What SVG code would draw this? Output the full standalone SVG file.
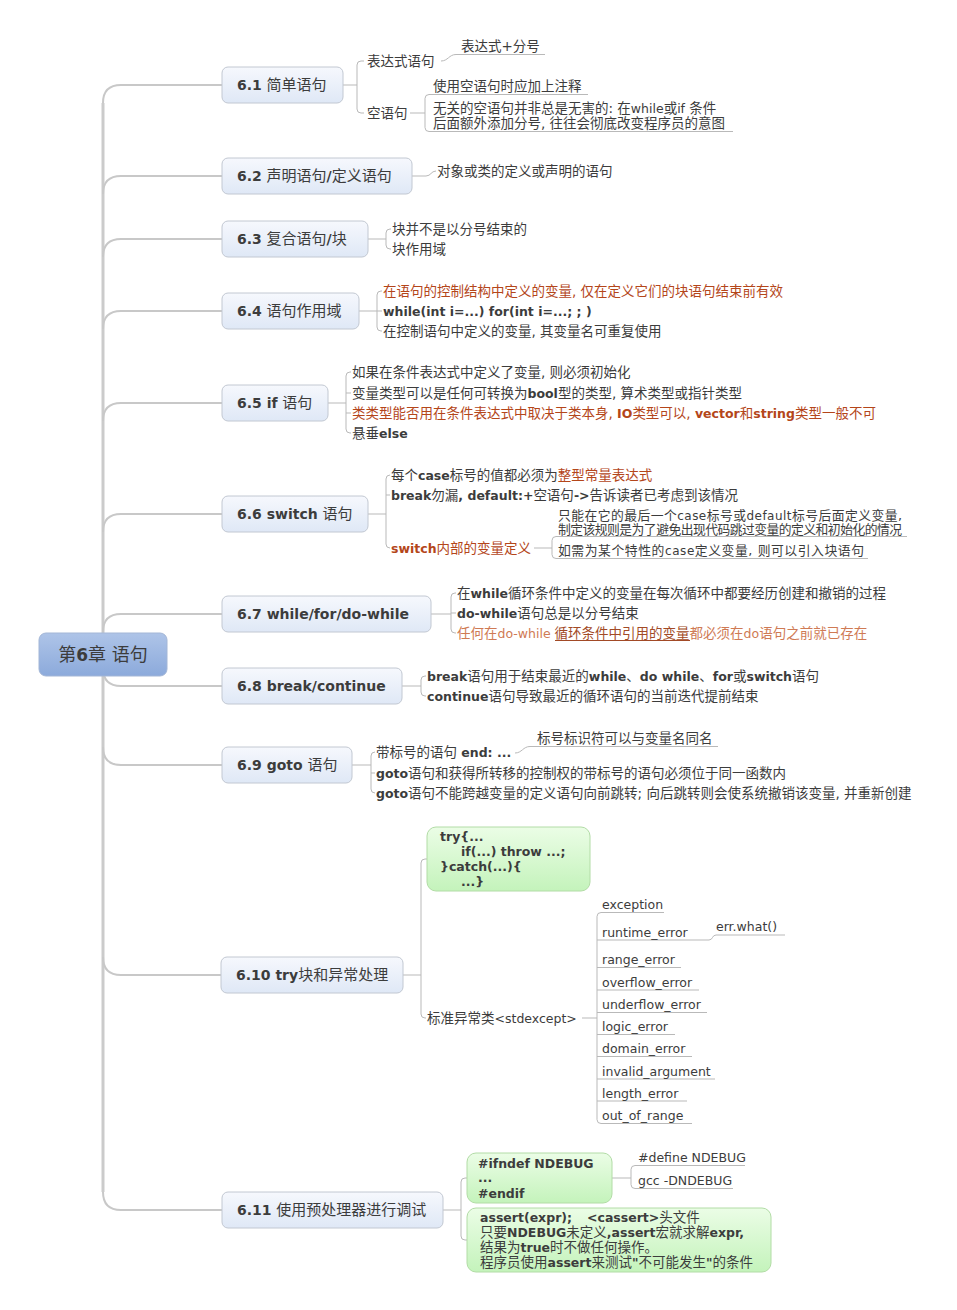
<svg xmlns="http://www.w3.org/2000/svg" width="957" height="1310" viewBox="0 0 957 1310">
<defs>
<linearGradient id="gNode" x1="0" y1="0" x2="0" y2="1"><stop offset="0" stop-color="#f6f8fd"/><stop offset="1" stop-color="#dfe8f6"/></linearGradient>
<linearGradient id="gRoot" x1="0" y1="0" x2="0" y2="1"><stop offset="0" stop-color="#aec4e8"/><stop offset="1" stop-color="#8caadb"/></linearGradient>
<linearGradient id="gGreen" x1="0" y1="0" x2="0" y2="1"><stop offset="0" stop-color="#ebfde6"/><stop offset="1" stop-color="#c4f3bb"/></linearGradient>
<style>
text{font-family:"DejaVu Sans","Noto Sans CJK SC",sans-serif;fill:#3c3c3c}
.tt{font-size:15px}
.n{font-weight:bold;font-size:14px}
.s{font-size:13.5px}
.s13{font-size:12.8px}
.l{font-size:12.5px}
.l12{font-size:12px}
.lb{font-size:12.5px;font-weight:bold}
.o{fill:#b4461a}
.o2{fill:#cf7a54}
.o3{fill:#a24a26}
.node{fill:url(#gNode);stroke:#c2c8d2;stroke-width:1}
.green{fill:url(#gGreen);stroke:#b2dca6;stroke-width:1}
.trunk{fill:none;stroke:#cbcbcb;stroke-width:3}
.br{fill:none;stroke:#c8c8c8;stroke-width:2}
.c{fill:none;stroke:#b9b9b9;stroke-width:1}
</style>
</defs>

<g id="connectors">
<path class="trunk" d="M103,103 V1192"/>
<path class="br" d="M103,103 Q103,85 121,85 H222"/>
<path class="br" d="M103,194 Q103,176 121,176 H222"/>
<path class="br" d="M103,257 Q103,239 121,239 H222"/>
<path class="br" d="M103,329 Q103,311 121,311 H222"/>
<path class="br" d="M103,421 Q103,403 121,403 H222"/>
<path class="br" d="M103,532 Q103,514 121,514 H222"/>
<path class="br" d="M103,632 Q103,614 121,614 H222"/>
<path class="br" d="M103,668 Q103,686 121,686 H222"/>
<path class="br" d="M103,747 Q103,765 121,765 H222"/>
<path class="br" d="M103,957 Q103,975 121,975 H221"/>
<path class="br" d="M103,1192 Q103,1210 121,1210 H222"/>

<!-- 6.1 -->
<path class="c" d="M343,85 H357 M364,61 H361 Q357,61 357,65 V109 Q357,113 361,113 H364"/>
<path class="c" d="M441,61 C448,61 449,54.5 456,54.5 H545"/>
<path class="c" d="M410,113 H425 M588,94.5 H429 Q425,94.5 425,98.5 V127.5 Q425,131.5 429,131.5 H733"/>
<!-- 6.2 -->
<path class="c" d="M412,176 H426 C431,176 431,171 436,171"/>
<!-- 6.3 -->
<path class="c" d="M368,239 H386 M391,229 H390 Q386,229 386,233 V245 Q386,249 390,249 H391"/>
<!-- 6.4 -->
<path class="c" d="M359,311 H382 M382,291 H381 Q377,291 377,295 V327 Q377,331 381,331 H382"/>
<!-- 6.5 -->
<path class="c" d="M328,403 H346 M351,372 H350 Q346,372 346,376 V429 Q346,433 350,433 H351 M346,393 H351 M346,413 H351"/>
<!-- 6.6 -->
<path class="c" d="M368,514 H386 M390,475 Q386,475 386,479 V544 Q386,548 390,548 M386,495 H390"/>
<path class="c" d="M534,548 H552 M907,536.5 H556 Q552,536.5 552,540.5 V554.5 Q552,558.5 556,558.5 H868"/>
<!-- 6.7 -->
<path class="c" d="M431,614 H451 M456,593 H455 Q451,593 451,597 V629 Q451,633 455,633 H456 M451,613 H456"/>
<!-- 6.8 -->
<path class="c" d="M402,686 H421 M426,676 H425 Q421,676 421,680 V692 Q421,696 425,696 H426"/>
<!-- 6.9 -->
<path class="c" d="M352,765 H371 M375,752 Q371,752 371,756 V789 Q371,793 375,793 M371,773 H375"/>
<path class="c" d="M515,753 C522,753 523,746.5 530,746.5 H718"/>
<!-- 6.10 -->
<path class="c" d="M403,975 H421 M427,859 H425 Q421,859 421,863 V1014 Q421,1018 425,1018 H426"/>
<path class="c" d="M582,1018 H597"/>
<path class="c" d="M664,912.5 H601 Q597,912.5 597,916.5 V1119.5 Q597,1123.5 601,1123.5 H692"/>
<path class="c" d="M597,940 H709 M597,967.5 H681 M597,990 H699 M597,1012.5 H707 M597,1034.5 H675 M597,1056.5 H692 M597,1079 H715 M597,1101 H687"/>
<path class="c" d="M709,940 C713,940 712,935 716,935 H785"/>
<!-- 6.11 -->
<path class="c" d="M443,1210 H461 M467,1178 H465 Q461,1178 461,1182 V1236 Q461,1240 465,1240 H467"/>
<path class="c" d="M612,1178 H631 M745,1165.5 H635 Q631,1165.5 631,1169.5 V1184.5 Q631,1188.5 635,1188.5 H733"/>
</g>

<g id="root">
<rect x="39" y="633" width="128" height="43" rx="7" fill="url(#gRoot)" stroke="#a3b6d6"/>
<text x="103" y="661" text-anchor="middle" style="font-size:18px">第<tspan style="font-weight:bold;font-size:17px">6</tspan>章 语句</text>
</g>

<g id="n61">
<rect class="node" x="222" y="67" width="121" height="36" rx="6"/>
<text class="tt" x="237" y="90"><tspan class="n">6.1</tspan> 简单语句</text>
<text class="s" x="367" y="65.5">表达式语句</text>
<text class="s" x="367" y="117.5">空语句</text>
<text class="s" x="461" y="50.5">表达式+分号</text>
<text class="s" x="433" y="90.5">使用空语句时应加上注释</text>
<text class="s" x="433" y="112.5">无关的空语句并非总是无害的: 在<tspan class="l">while</tspan>或<tspan class="l">if</tspan> 条件</text>
<text class="s" x="433" y="127.5">后面额外添加分号, 往往会彻底改变程序员的意图</text>
</g>

<g id="n62">
<rect class="node" x="222" y="158" width="190" height="36" rx="6"/>
<text class="tt" x="237" y="181"><tspan class="n">6.2</tspan> 声明语句<tspan class="n">/</tspan>定义语句</text>
<text class="s" x="437" y="175.5">对象或类的定义或声明的语句</text>
</g>

<g id="n63">
<rect class="node" x="222" y="221" width="146" height="36" rx="6"/>
<text class="tt" x="237" y="244"><tspan class="n">6.3</tspan> 复合语句<tspan class="n">/</tspan>块</text>
<text class="s" x="392" y="233.5">块并不是以分号结束的</text>
<text class="s" x="392" y="253.5">块作用域</text>
</g>

<g id="n64">
<rect class="node" x="222" y="293" width="137" height="36" rx="6"/>
<text class="tt" x="237" y="316"><tspan class="n">6.4</tspan> 语句作用域</text>
<text class="s o" x="383" y="295.5">在语句的控制结构中定义的变量, 仅在定义它们的块语句结束前有效</text>
<text class="lb" x="383" y="315.5">while(int i=...) for(int i=...; ; )</text>
<text class="s" x="383" y="335.5">在控制语句中定义的变量, 其变量名可重复使用</text>
</g>

<g id="n65">
<rect class="node" x="222" y="385" width="106" height="36" rx="6"/>
<text class="tt" x="237" y="408"><tspan class="n">6.5 if</tspan> 语句</text>
<text class="s" x="352" y="376.5">如果在条件表达式中定义了变量, 则必须初始化</text>
<text class="s" x="352" y="397.5">变量类型可以是任何可转换为<tspan class="lb">bool</tspan>型的类型, 算术类型或指针类型</text>
<text class="s o" x="352" y="417.5">类类型能否用在条件表达式中取决于类本身, <tspan class="lb o">IO</tspan>类型可以, <tspan class="lb o">vector</tspan>和<tspan class="lb o">string</tspan>类型一般不可</text>
<text class="s" x="352" y="437.5">悬垂<tspan class="lb">else</tspan></text>
</g>

<g id="n66">
<rect class="node" x="222" y="496" width="146" height="36" rx="6"/>
<text class="tt" x="237" y="519"><tspan class="n">6.6 switch</tspan> 语句</text>
<text class="s" x="391" y="479.5">每个<tspan class="lb">case</tspan>标号的值都必须为<tspan class="o">整型常量表达式</tspan></text>
<text class="s" x="391" y="499.5"><tspan class="lb">break</tspan>勿漏<tspan class="lb">, default:+</tspan>空语句<tspan class="lb">-&gt;</tspan>告诉读者已考虑到该情况</text>
<text class="s o" x="391" y="552.5"><tspan class="lb o">switch</tspan>内部的变量定义</text>
<text class="s13" x="558" y="520" textLength="344" lengthAdjust="spacing">只能在它的最后一个<tspan class="l12">case</tspan>标号或<tspan class="l12">default</tspan>标号后面定义变量,</text>
<text class="s13" x="558" y="534" textLength="344" lengthAdjust="spacing">制定该规则是为了避免出现代码跳过变量的定义和初始化的情况</text>
<text class="s13" x="558" y="555" textLength="306" lengthAdjust="spacing">如需为某个特性的<tspan class="l12">case</tspan>定义变量, 则可以引入块语句</text>
</g>

<g id="n67">
<rect class="node" x="222" y="596" width="209" height="36" rx="6"/>
<text class="tt" x="237" y="619"><tspan class="n">6.7 while/for/do-while</tspan></text>
<text class="s" x="457" y="597.5">在<tspan class="lb">while</tspan>循环条件中定义的变量在每次循环中都要经历创建和撤销的过程</text>
<text class="s" x="457" y="617.5"><tspan class="lb">do-while</tspan>语句总是以分号结束</text>
<text class="s o2" x="457" y="637.5">任何在<tspan class="l o2">do-while </tspan><tspan class="o3">循环条件中引用的变量</tspan>都必须在<tspan class="l o2">do</tspan>语句之前就已存在</text>
<line x1="555" y1="640.5" x2="690" y2="640.5" stroke="#a24a26" stroke-width="1"/>
</g>

<g id="n68">
<rect class="node" x="222" y="668" width="180" height="36" rx="6"/>
<text class="tt" x="237" y="691"><tspan class="n">6.8 break/continue</tspan></text>
<text class="s" x="427" y="680.5"><tspan class="lb">break</tspan>语句用于结束最近的<tspan class="lb">while</tspan>、<tspan class="lb">do while</tspan>、<tspan class="lb">for</tspan>或<tspan class="lb">switch</tspan>语句</text>
<text class="s" x="427" y="700.5"><tspan class="lb">continue</tspan>语句导致最近的循环语句的当前迭代提前结束</text>
</g>

<g id="n69">
<rect class="node" x="222" y="747" width="130" height="36" rx="6"/>
<text class="tt" x="237" y="770"><tspan class="n">6.9 goto</tspan> 语句</text>
<text class="s" x="376" y="756.5">带标号的语句 <tspan class="lb">end: ...</tspan></text>
<text class="s" x="537" y="742.5">标号标识符可以与变量名同名</text>
<text class="s" x="376" y="777.5"><tspan class="lb">goto</tspan>语句和获得所转移的控制权的带标号的语句必须位于同一函数内</text>
<text class="s" x="376" y="797.5"><tspan class="lb">goto</tspan>语句不能跨越变量的定义语句向前跳转; 向后跳转则会使系统撤销该变量, 并重新创建</text>
</g>

<g id="n610">
<rect class="node" x="221" y="957" width="182" height="36" rx="6"/>
<text class="tt" x="236" y="980"><tspan class="n">6.10 try</tspan>块和异常处理</text>
<rect class="green" x="427" y="827" width="163" height="64" rx="9"/>
<text class="lb" x="440" y="841">try{...</text>
<text class="lb" x="461" y="856">if(...) throw ...;</text>
<text class="lb" x="440" y="871">}catch(...){</text>
<text class="lb" x="461" y="886">...}</text>
<text class="s" x="427" y="1022.5">标准异常类<tspan class="l">&lt;stdexcept&gt;</tspan></text>
<text class="l" x="602" y="909">exception</text>
<text class="l" x="602" y="936.5">runtime_error</text>
<text class="l" x="716" y="931">err.what()</text>
<text class="l" x="602" y="964">range_error</text>
<text class="l" x="602" y="986.5">overflow_error</text>
<text class="l" x="602" y="1009">underflow_error</text>
<text class="l" x="602" y="1031">logic_error</text>
<text class="l" x="602" y="1053">domain_error</text>
<text class="l" x="602" y="1075.5">invalid_argument</text>
<text class="l" x="602" y="1097.5">length_error</text>
<text class="l" x="602" y="1120">out_of_range</text>
</g>

<g id="n611">
<rect class="node" x="222" y="1192" width="221" height="36" rx="6"/>
<text class="tt" x="237" y="1215"><tspan class="n">6.11</tspan> 使用预处理器进行调试</text>
<rect class="green" x="467" y="1153" width="145" height="50" rx="9"/>
<text class="lb" x="478" y="1167.5">#ifndef NDEBUG</text>
<text class="lb" x="478" y="1182">...</text>
<text class="lb" x="478" y="1197.5">#endif</text>
<text class="l" x="638" y="1162">#define NDEBUG</text>
<text class="l" x="638" y="1185">gcc -DNDEBUG</text>
<rect class="green" x="467" y="1208" width="304" height="64" rx="9"/>
<text class="s" x="480" y="1221.5"><tspan class="lb">assert(expr);</tspan><tspan class="lb" x="587">&lt;cassert&gt;</tspan>头文件</text>
<text class="s" x="480" y="1236.5">只要<tspan class="lb">NDEBUG</tspan>未定义<tspan class="lb">,assert</tspan>宏就求解<tspan class="lb">expr,</tspan></text>
<text class="s" x="480" y="1251.5">结果为<tspan class="lb">true</tspan>时不做任何操作。</text>
<text class="s" x="480" y="1266.5">程序员使用<tspan class="lb">assert</tspan>来测试<tspan class="lb">"</tspan>不可能发生<tspan class="lb">"</tspan>的条件</text>
</g>
</svg>
